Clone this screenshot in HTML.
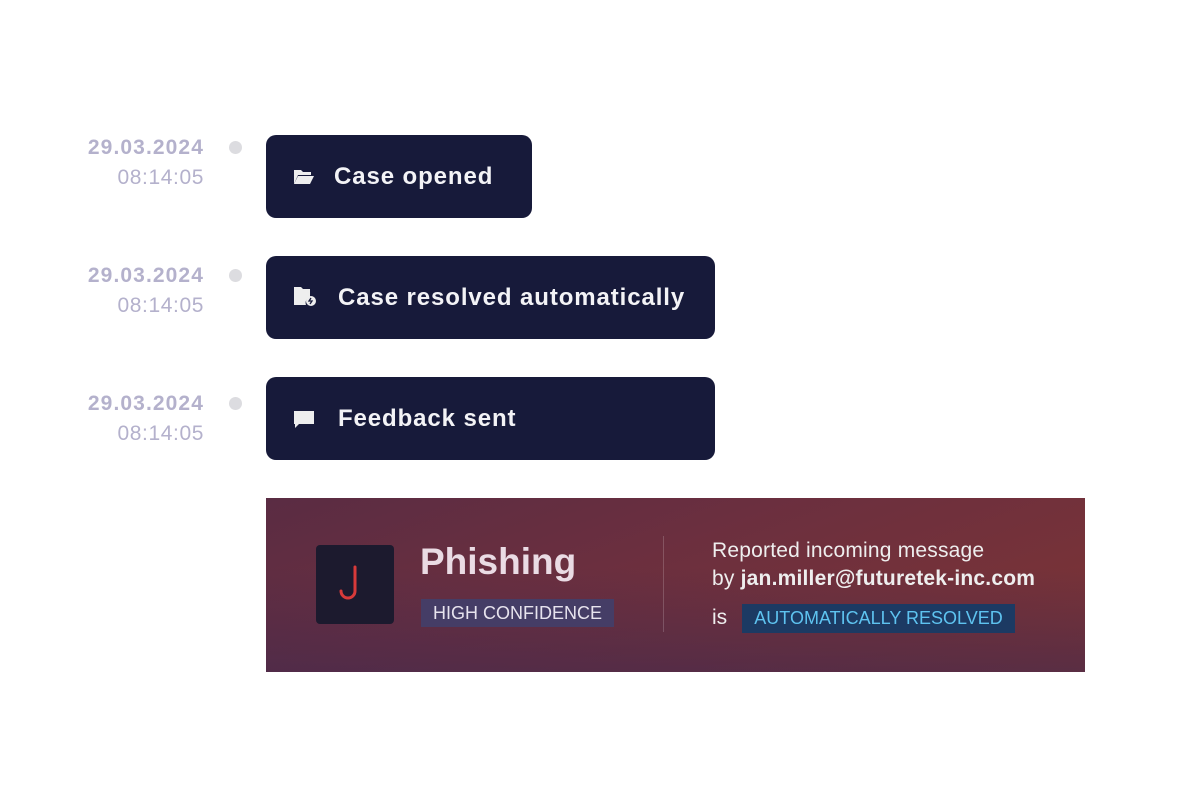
<!DOCTYPE html>
<html><head><style>
body{margin:0;width:1200px;height:808px;background:#fff;position:relative;overflow:hidden;font-family:"Liberation Sans",sans-serif}
.d{position:absolute;right:996px;text-align:right;color:#b4b1cc;font-size:21px;line-height:30px}
.d b{font-weight:bold;letter-spacing:1.1px}
.d span{letter-spacing:0.6px}
.dot{position:absolute;left:229px;width:13px;height:13px;border-radius:50%;background:#dcdce0}
.card{position:absolute;left:266px;height:83px;background:#171a3a;border-radius:10px;color:#f3f3f6;font-size:24px;font-weight:bold;display:flex;align-items:center;box-sizing:border-box;letter-spacing:0.9px}
.ic{position:absolute;left:27px}
.ban{position:absolute;left:266px;top:498px;width:819px;height:174px;background:linear-gradient(160deg,#5a2c43 0%,#6b2f3f 40%,#7e3434 100%);overflow:hidden}
.ban:before{content:"";position:absolute;inset:0;background:linear-gradient(0deg,rgba(60,40,80,.55),rgba(60,40,80,0) 60%)}
</style></head><body>
<div class="d" style="top:133px"><b>29.03.2024</b><br><span>08:14:05</span></div>
<div class="d" style="top:261px"><b>29.03.2024</b><br><span>08:14:05</span></div>
<div class="d" style="top:389px"><b>29.03.2024</b><br><span>08:14:05</span></div>
<div class="dot" style="top:141px"></div>
<div class="dot" style="top:269px"></div>
<div class="dot" style="top:397px"></div>

<div class="card" style="top:135px;width:266px;padding-left:68px">
<svg class="ic" width="22" height="18" viewBox="0 0 22 18" style="top:33px"><path d="M1 2h7l2 2h8v3H5L1 16z" fill="#eee"/><path d="M5 8h16l-4 8H1z" fill="#eee"/></svg>Case opened</div>
<div class="card" style="top:256px;width:449px;padding-left:72px">
<svg class="ic" width="24" height="20" viewBox="0 0 24 20" style="top:30px"><path d="M1 1h7l2 2h7v8a6 6 0 0 0-4 8H1z" fill="#eee"/><circle cx="18" cy="15" r="5" fill="#eee"/><path d="M18 12l-2 3h3l-2 3" stroke="#171a3a" stroke-width="1.3" fill="none"/></svg>Case resolved automatically</div>
<div class="card" style="top:377px;width:449px;padding-left:72px">
<svg class="ic" width="22" height="20" viewBox="0 0 22 20" style="top:33px"><path d="M1 1h20v13H6l-4 4v-4H1z" fill="#eee"/></svg>Feedback sent</div>

<div class="ban">
<div style="position:absolute;left:50px;top:47px;width:78px;height:79px;background:#1c1a2e;border-radius:4px"><svg width="78" height="79" viewBox="0 0 78 79"><path d="M39 22v24a7 7 0 0 1-14 0" stroke="#d83a3a" stroke-width="3" fill="none" stroke-linecap="round"/></svg></div>
<div style="position:absolute;left:154px;top:43px;font-size:37px;font-weight:bold;color:#eadbe4">Phishing</div>
<div style="position:absolute;left:155px;top:101px;width:193px;height:28px;background:#453d66;color:#e7e3ee;font-size:18px;line-height:28px;text-align:center">HIGH CONFIDENCE</div>
<div style="position:absolute;left:397px;top:38px;width:1px;height:96px;background:rgba(255,255,255,.18)"></div>
<div style="position:absolute;left:446px;top:39px;font-size:21px;color:#eee;line-height:28px;letter-spacing:0.2px">Reported incoming message<br>by <b>jan.miller@futuretek-inc.com</b></div>
<div style="position:absolute;left:446px;top:108px;font-size:21px;color:#eee">is</div>
<div style="position:absolute;left:476px;top:106px;width:273px;height:29px;background:#1c3a63;color:#5ec3f0;font-size:18px;line-height:29px;text-align:center">AUTOMATICALLY RESOLVED</div>
</div>
</body></html>
